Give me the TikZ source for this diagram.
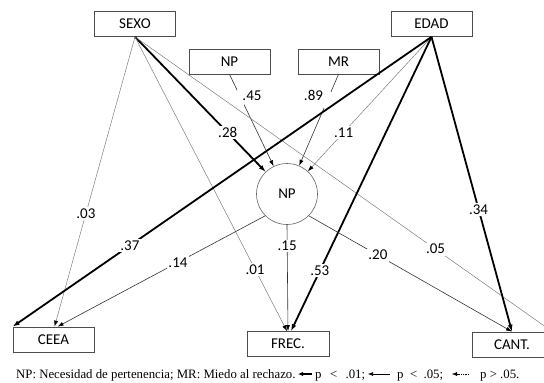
\documentclass[tikz,border=0pt]{standalone}
\usepackage{fontspec}
\setmainfont{Liberation Serif}
\newfontfamily\calib{Carlito}
\usetikzlibrary{arrows.meta}
\begin{document}
\begin{tikzpicture}[x=1pt,y=-1pt,
  box/.style={draw=black!70, line width=0.7pt, minimum width=81pt, minimum height=25pt, inner sep=0pt, font=\calib\fontsize{15}{17}\selectfont},
  lbl/.style={fill=white, inner sep=1.5pt, font=\calib\fontsize{15}{17}\selectfont},
  nofill/.style={inner sep=1.5pt, font=\calib\fontsize{15}{17}\selectfont},
  gapbox/.style={fill=white, inner sep=0pt, minimum width=7pt, minimum height=16pt},
  pthick/.style={line width=1.8pt, -{Latex[length=7pt,width=5pt]}},
  pthin/.style={line width=0.6pt, draw=black!80, -{Latex[length=6pt,width=4pt,black]}},
  pns/.style={line width=0.45pt, draw=black!55, -{Latex[length=6pt,width=4pt,black]}},
  captxt/.style={inner sep=0pt, anchor=base west, font=\fontsize{12.8}{14}\selectfont},
]
\useasboundingbox (0,0) rectangle (544,383);

\node[box] (sexo) at (135,24) {SEXO};
\node[box] (npb) at (229.5,61.5) {NP};
\node[box] (mr) at (338.5,61.5) {MR};
\node[box] (edad) at (431.5,24) {EDAD};
\node[circle, draw=black!60, line width=0.6pt, minimum size=61pt, inner sep=0pt, font=\calib\fontsize{15}{17}\selectfont] (np) at (287,194) {NP};
\node[box] (ceea) at (53.5,339.5) {CEEA};
\node[box, minimum width=82pt] (frec) at (288,344) {FREC.};
\node[box, minimum width=80pt] (cant) at (512,344.5) {CANT.};

% residual paths (with gaps under their labels)
\draw[pthin] (npb.south) -- coordinate[pos=.26] (l45) (np);
\draw[pthin] (mr.south) -- coordinate[pos=.28] (l89) (np);
\node[gapbox] at (l45) {};
\node[gapbox] at (l89) {};

% connectors
\draw[pthick] (sexo.south) -- coordinate[pos=.71] (l28) (np);
\draw[pns] (sexo.south) -- coordinate[pos=.61] (l03) ([xshift=1pt]ceea.north);
\draw[pns] (sexo.south) -- coordinate[pos=.79] (l01) ([xshift=-1pt]frec.north);
\draw[pns] (sexo.south) -- coordinate[pos=.72] (l05) (cant.north east);
\draw[pns] (edad.south) -- coordinate[pos=.71] (l11) (np);
\draw[pthick] (edad.south) -- coordinate[pos=.72] (l37) (ceea.north west);
\draw[pthick] (edad.south) -- coordinate[pos=.795] (l53) ([xshift=3pt]frec.north);
\draw[pthick] (edad.south) -- coordinate[pos=.585] (l34) (cant.north);
\draw[pthin] (np.225) -- coordinate[pos=.42] (l14) ([xshift=4pt]ceea.north);
\draw[pthin] (np.south) -- coordinate[pos=.2] (l15) (frec.north);
\draw[pthin] (np.-45) -- coordinate[pos=.34] (l20) (cant.north);

% labels
\node[lbl] at (l28) {.28};
\node[lbl] at (l03) {.03};
\node[lbl] at (l01) {.01};
\node[lbl] at (l05) {.05};
\node[nofill, xshift=11pt, yshift=2pt] at (l45) {.45};
\node[nofill, xshift=-14pt, yshift=4pt] at (l89) {.89};
\node[lbl] at (l11) {.11};
\node[lbl] at (l37) {.37};
\node[lbl] at (l53) {.53};
\node[lbl] at (l34) {.34};
\node[lbl] at (l14) {.14};
\node[lbl] at (l15) {.15};
\node[lbl] at (l20) {.20};

% caption and legend
\node[captxt] (cap) at (16,378) {NP: Necesidad de pertenencia; MR: Miedo al rechazo.};
\coordinate (a1s) at (312,374);
\coordinate (a1e) at (298,374);
\draw[line width=1.6pt, -{Latex[length=5pt,width=4.5pt]}] (a1s) -- (a1e);
\node[captxt] (t1) at (315,378) {\hbox to 50pt{p\hfil<\hfil.01;}};
\coordinate (a2s) at (390,374);
\coordinate (a2e) at (368,374);
\draw[line width=0.6pt, -{Latex[length=5pt,width=4pt]}] (a2s) -- (a2e);
\node[captxt] (t2) at (397,378) {\hbox to 46pt{p\hfil<\hfil.05;}};
\coordinate (a3s) at (469,374);
\coordinate (a3e) at (452,374);
\draw[line width=0.5pt, dash pattern=on 1.5pt off 0.8pt, -{Latex[length=5pt,width=4pt]}] (a3s) -- (a3e);
\node[captxt] (t3) at (480,378) {p > .05.};
\end{tikzpicture}
\end{document}
